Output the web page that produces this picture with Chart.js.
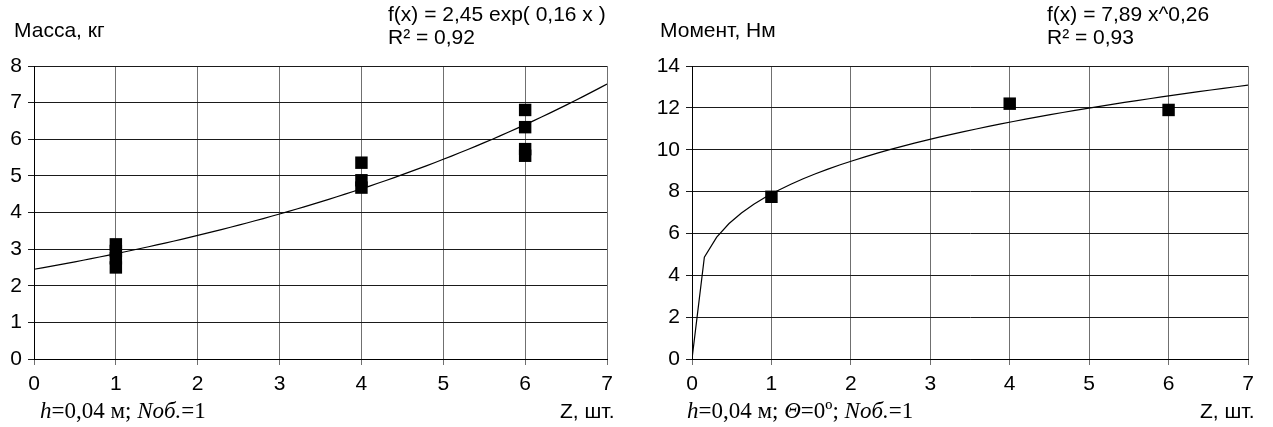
<!DOCTYPE html>
<html><head><meta charset="utf-8">
<script src="https://cdn.jsdelivr.net/npm/chart.js@4/dist/chart.umd.min.js"></script>
<style>
html,body{margin:0;padding:0;background:#fff;}
#wrap{position:relative;width:1273px;height:427px;overflow:hidden;background:#fff}
.box{position:absolute;top:0;height:427px}
.t{position:absolute;font-family:"Liberation Sans",Arial,sans-serif;font-size:21px;line-height:21px;color:#000;white-space:nowrap}
.s{position:absolute;font-family:"Liberation Serif","Times New Roman",serif;font-size:23px;line-height:23px;color:#000;white-space:nowrap}
</style></head>
<body><div id="wrap">
<div class="box" style="left:0;width:640px"><canvas id="c1" width="640" height="427"></canvas></div>
<div class="box" style="left:640px;width:633px"><canvas id="c2" width="633" height="427"></canvas></div>
<div class="t" style="left:14px;top:19px">Масса, кг</div>
<div class="t" style="left:388px;top:3px">f(x) = 2,45 exp( 0,16 x )</div>
<div class="t" style="left:388px;top:26px">R² = 0,92</div>
<div class="t" style="left:560px;top:400px">Z, шт.</div>
<div class="s" style="left:40px;top:399px"><i>h</i>=0,04 м; <i>Noб.</i>=1</div>
<div class="t" style="left:660px;top:19px">Момент, Нм</div>
<div class="t" style="left:1047px;top:3px">f(x) = 7,89 x^0,26</div>
<div class="t" style="left:1047px;top:26px">R² = 0,93</div>
<div class="t" style="left:1200px;top:400px">Z, шт.</div>
<div class="s" style="left:687px;top:399px"><i>h</i>=0,04 м; <i>Θ</i>=0º; <i>Noб.</i>=1</div>
</div>
<script>
// ---- data ----
const massZ = [1, 1, 1, 1, 4, 4, 4, 6, 6, 6, 6];
const massKg = [3.13, 2.95, 2.75, 2.5, 5.36, 4.88, 4.68, 6.8, 6.33, 5.73, 5.55];
const momentZ = [1, 4, 6];
const momentNm = [7.75, 12.2, 11.9];
// trendline coefficients shown on the chart
const massTrend = {a: 2.45, b: 0.16};      // f(x) = a*exp(b*x)
const momentTrend = {a: 7.89, b: 0.26};    // f(x) = a*x^b
const xTicks = [0, 1, 2, 3, 4, 5, 6, 7];
const massTicks = [0, 1, 2, 3, 4, 5, 6, 7, 8];
const momentTicks = [0, 2, 4, 6, 8, 10, 12, 14];

function trendPoints(fn, n) {
  const out = [];
  for (let i = 0; i <= n; i++) { const x = 7 * i / n; out.push({x: x, y: fn(x)}); }
  return out;
}
const massCurve = trendPoints(x => massTrend.a * Math.exp(massTrend.b * x), 70);
const momentCurve = trendPoints(x => momentTrend.a * Math.pow(x, momentTrend.b), 45);

const FONT = {family: '"Liberation Sans", Arial, sans-serif', size: 21};

function makeChart(id, xs, ys, curve, yt, area, cw, ch) {
  const pts = xs.map((x, i) => ({x: x, y: ys[i]}));
  return new Chart(document.getElementById(id), {
    type: 'scatter',
    data: {datasets: [
      {data: pts, pointStyle: 'rect', pointRadius: 8.8, pointHoverRadius: 8.8,
       backgroundColor: '#000', borderWidth: 0, order: 0},
      {data: curve, showLine: true, pointRadius: 0, borderColor: '#000',
       borderWidth: 1.2, tension: 0, fill: false, order: 1}
    ]},
    options: {
      responsive: false, animation: false, events: [],
      layout: {padding: {left: 0, right: cw - area.right, top: area.top, bottom: 0}},
      plugins: {legend: {display: false}, tooltip: {enabled: false}},
      scales: {
        x: {type: 'linear', min: xTicks[0], max: xTicks[xTicks.length - 1],
            afterBuildTicks: s => { s.ticks = xTicks.map(v => ({value: v})); },
            afterFit: s => { s.height = ch - area.bottom; },
            grid: {color: '#707070', lineWidth: 1, tickLength: 6, drawTicks: true},
            border: {color: '#000', width: 1},
            ticks: {font: FONT, color: '#000', padding: 7, maxRotation: 0}},
        y: {type: 'linear', min: yt[0], max: yt[yt.length - 1],
            afterBuildTicks: s => { s.ticks = yt.map(v => ({value: v})); },
            afterFit: s => { s.width = area.left; },
            grid: {color: '#1a1a1a', lineWidth: 1, tickLength: 6, drawTicks: true},
            border: {color: '#000', width: 1},
            ticks: {font: FONT, color: '#000', padding: 6}}
      }
    }
  });
}
makeChart('c1', massZ, massKg, massCurve, massTicks, {left: 34, right: 607, top: 66, bottom: 359}, 640, 427);
makeChart('c2', momentZ, momentNm, momentCurve, momentTicks, {left: 52, right: 608, top: 66, bottom: 359}, 633, 427);
</script>
</body></html>
